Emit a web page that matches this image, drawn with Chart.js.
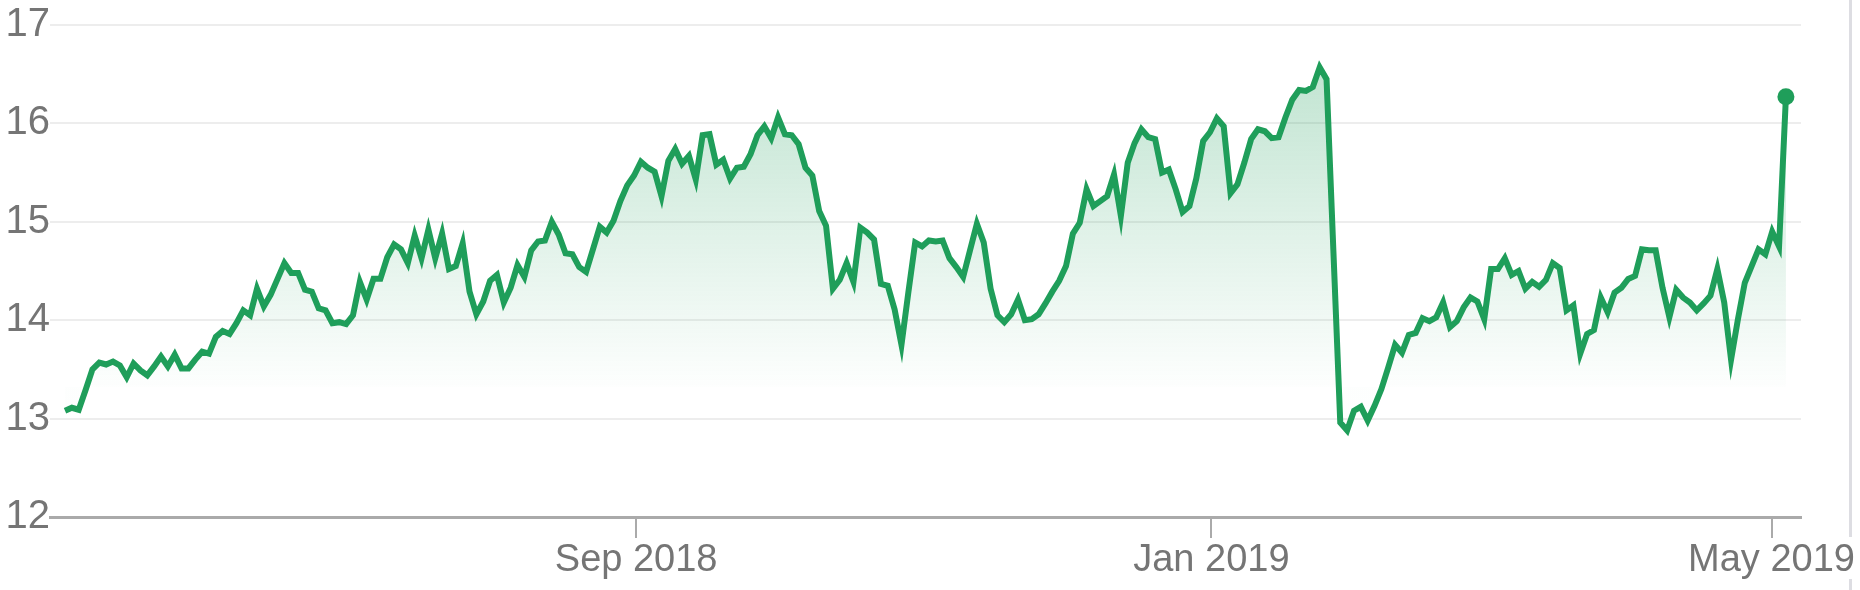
<!DOCTYPE html>
<html>
<head>
<meta charset="utf-8">
<title>Price chart</title>
<script src="https://cdn.jsdelivr.net/npm/chart.js@4.4.1/dist/chart.umd.min.js"></script>
<style>
  html, body { margin: 0; padding: 0; background: #fff; }
  #wrap { width: 1860px; height: 590px; position: relative; }
</style>
</head>
<body>
<div id="wrap"><canvas id="chart"></canvas></div>
<script>
// daily closes, one per trading day
const prices = [
  13.08, 13.11, 13.09, 13.29, 13.50, 13.57, 13.55, 13.58, 13.54, 13.42,
  13.56, 13.49, 13.44, 13.53, 13.63, 13.53, 13.65, 13.51, 13.51, 13.60,
  13.68, 13.66, 13.83, 13.89, 13.86, 13.97, 14.10, 14.05, 14.32, 14.14,
  14.26, 14.42, 14.58, 14.48, 14.48, 14.31, 14.29, 14.12, 14.10, 13.97,
  13.98, 13.96, 14.05, 14.39, 14.21, 14.42, 14.42, 14.64, 14.77, 14.72,
  14.58, 14.86, 14.63, 14.92, 14.63, 14.88, 14.52, 14.55, 14.78, 14.29,
  14.06, 14.19, 14.40, 14.46, 14.18, 14.33, 14.56, 14.44, 14.71, 14.80,
  14.81, 15.00, 14.87, 14.68, 14.67, 14.54, 14.49, 14.72, 14.95, 14.89,
  15.01, 15.21, 15.37, 15.47, 15.61, 15.55, 15.51, 15.26, 15.62, 15.74,
  15.59, 15.67, 15.43, 15.88, 15.89, 15.58, 15.63, 15.44, 15.55, 15.56,
  15.69, 15.88, 15.97, 15.85, 16.06, 15.89, 15.88, 15.79, 15.55, 15.47,
  15.11, 14.96, 14.32, 14.41, 14.58, 14.39, 14.94, 14.89, 14.82, 14.37,
  14.35, 14.11, 13.75, 14.28, 14.79, 14.75, 14.81, 14.80, 14.81, 14.63,
  14.54, 14.44, 14.71, 14.98, 14.79, 14.32, 14.05, 13.98, 14.06, 14.21,
  14.00, 14.01, 14.06, 14.17, 14.29, 14.40, 14.55, 14.88, 14.99, 15.33,
  15.16, 15.21, 15.26, 15.48, 15.06, 15.60, 15.80, 15.94, 15.86, 15.84,
  15.50, 15.53, 15.33, 15.10, 15.16, 15.44, 15.82, 15.91, 16.05, 15.97,
  15.29, 15.38, 15.60, 15.84, 15.94, 15.92, 15.85, 15.86, 16.06, 16.24,
  16.34, 16.33, 16.37, 16.57, 16.45, 14.70, 12.96, 12.88, 13.08, 13.12,
  12.98, 13.13, 13.30, 13.52, 13.75, 13.67, 13.85, 13.87, 14.02, 13.99,
  14.03, 14.18, 13.93, 13.99, 14.13, 14.23, 14.19, 14.01, 14.52, 14.52,
  14.63, 14.46, 14.50, 14.32, 14.39, 14.34, 14.41, 14.58, 14.53, 14.10,
  14.15, 13.66, 13.86, 13.90, 14.23, 14.08, 14.28, 14.33, 14.42, 14.45,
  14.72, 14.71, 14.71, 14.33, 14.03, 14.31, 14.23, 14.18, 14.10, 14.17,
  14.25, 14.52, 14.18, 13.60, 14.01, 14.38, 14.55, 14.72, 14.67, 14.90,
  14.75, 16.27
];

// month ticks, placed at their (fractional) trading-day index
const tickPositions = [83.3, 167.2, 248.9];
const tickLabels = ['Sep 2018', 'Jan 2019', 'May 2019'];

const yMin = 12;
const yMax = 17;
const fillBase = 13.32;

const green = '#1f9e5a';
const points = prices.map((p, i) => ({ x: i, y: p }));

// thin grey rule at the right edge of the card
const edgeLine = {
  id: 'edgeLine',
  afterDraw(chart) {
    const ctx = chart.ctx;
    ctx.save();
    ctx.strokeStyle = '#dddde2';
    ctx.lineWidth = 3;
    ctx.beginPath();
    ctx.moveTo(1850.5, 0);
    ctx.lineTo(1850.5, 537);
    ctx.moveTo(1850.5, 579);
    ctx.lineTo(1850.5, 590);
    ctx.stroke();
    ctx.restore();
  }
};

function areaGradient(context) {
  const chart = context.chart;
  const area = chart.chartArea;
  if (!area) return 'rgba(31,158,90,0.1)';
  const y = chart.scales.y;
  const g = chart.ctx.createLinearGradient(0, y.getPixelForValue(16.6), 0, y.getPixelForValue(fillBase));
  g.addColorStop(0, 'rgba(31,158,90,0.28)');
  g.addColorStop(1, 'rgba(31,158,90,0.006)');
  return g;
}

const family = "'Liberation Sans', Arial, Helvetica, sans-serif";

new Chart(document.getElementById('chart'), {
  type: 'line',
  data: {
    datasets: [{
      data: points,
      borderColor: green,
      borderWidth: 6,
      backgroundColor: areaGradient,
      fill: { value: fillBase },
      tension: 0,
      pointRadius: ctx => (ctx.dataIndex === prices.length - 1 ? 8.5 : 0),
      pointBackgroundColor: green,
      pointBorderWidth: 0,
      pointHoverRadius: 0
    }]
  },
  options: {
    responsive: true,
    maintainAspectRatio: false,
    devicePixelRatio: 1,
    animation: false,
    events: [],
    layout: { padding: { left: 0, right: 59, top: 25, bottom: 0 } },
    plugins: { legend: { display: false }, tooltip: { enabled: false } },
    scales: {
      x: {
        type: 'linear',
        min: -2.19,
        max: 253.2,
        afterBuildTicks: scale => { scale.ticks = tickPositions.map(v => ({ value: v })); },
        afterFit: scale => { scale.height = 73; },
        ticks: {
          autoSkip: false,
          maxRotation: 0,
          padding: 0,
          color: '#757575',
          font: { family: family, size: 38 },
          callback: (v, i) => tickLabels[i]
        },
        grid: {
          drawOnChartArea: false,
          drawTicks: true,
          tickLength: 21,
          color: '#aaaaaa',
          lineWidth: 2
        },
        border: { display: true, color: '#aaaaaa', width: 3 }
      },
      y: {
        min: yMin,
        max: yMax,
        afterFit: scale => { scale.width = 50; },
        ticks: {
          stepSize: 1,
          padding: 0,
          color: '#757575',
          font: { family: family, size: 40 }
        },
        grid: { color: '#ededed', lineWidth: 2, drawTicks: false },
        border: { display: false }
      }
    }
  },
  plugins: [edgeLine]
});
</script>
</body>
</html>
